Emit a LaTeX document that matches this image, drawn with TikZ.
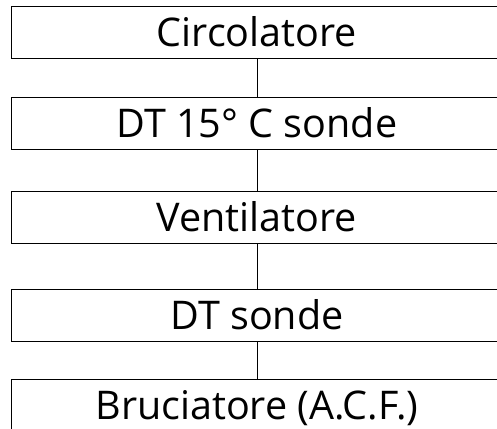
\documentclass[tikz,border=0pt]{standalone}
\usepackage{fontspec}
\setmainfont{Open Sans}

\tikzset{
  stepbox/.style={draw=black, line width=0.8bp, minimum width=492bp, minimum height=52bp,
    inner sep=0pt, text height=28bp, text depth=0pt, font=\fontsize{39.5bp}{42bp}\selectfont},
  link/.style={black, line width=0.8bp}
}

\begin{document}
\begin{tikzpicture}[x=1bp, y=-1bp]

\useasboundingbox (0,0) rectangle (497,428);

\node[stepbox] (circ) at (257, 32.5) {Circolatore};

\node[stepbox] (dtquindici) at (257, 123) {DT 15° C sonde};

\node[stepbox] (vent) at (257, 217) {Ventilatore};

\node[stepbox] (dtsonde) at (257, 315.5) {DT sonde};

\node[stepbox] (bruc) at (257, 405) {Bruciatore (A.C.F.)};

\draw[link] (circ) -- (dtquindici);

\draw[link] (dtquindici) -- (vent);

\draw[link] (vent) -- (dtsonde);

\draw[link] (dtsonde) -- (bruc);

\end{tikzpicture}
\end{document}
